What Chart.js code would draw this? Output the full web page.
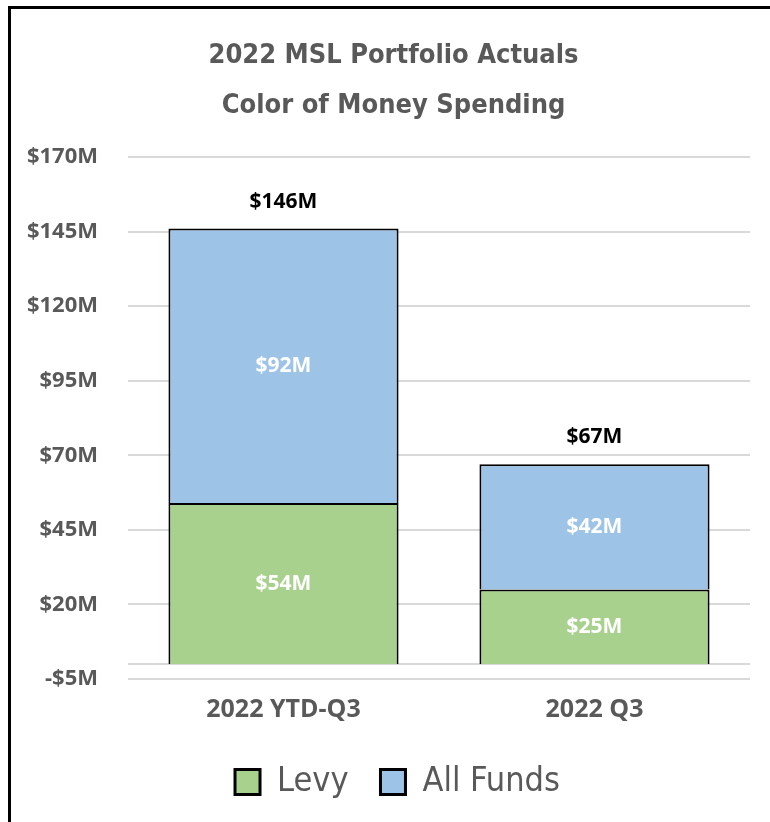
<!DOCTYPE html>
<html>
<head>
<meta charset="utf-8">
<script src="https://cdn.jsdelivr.net/npm/chart.js@4"></script>
<style>
  html, body { margin: 0; padding: 0; background: #fff; overflow: hidden; }
  #frame { position: absolute; left: 8px; top: 6px; width: 762px; height: 816px;
           border-left: 3px solid #000; border-top: 3px solid #000; box-sizing: border-box; }
  #wrap { position: absolute; left: 0; top: 0; width: 759px; height: 813px; }
</style>
</head>
<body>
<div id="frame"><div id="wrap"><canvas id="c"></canvas></div></div>
<script>
const categories = ['2022 YTD-Q3', '2022 Q3'];
const levy = [54, 25];
const allFunds = [92, 42];
const totals = [146, 67];
const titleLines = ['2022 MSL Portfolio Actuals', 'Color of Money Spending'];
const yMin = -5, yMax = 170, yStep = 25;

const GREY = '#595959';
const GRID = '#d9d9d9';
const FONT = "'Open Sans', sans-serif";
const NARROW = "'Liberation Sans Narrow', 'DejaVu Sans Condensed', sans-serif";

const fmt = v => (v < 0 ? '-$' + Math.abs(v) : '$' + v) + 'M';

const zeroLine = {
  id: 'zeroLine',
  beforeDatasetsDraw(chart) {
    const y = chart.scales.y.getPixelForValue(0);
    const { left, right } = chart.chartArea;
    const ctx = chart.ctx;
    ctx.save();
    ctx.strokeStyle = GRID;
    ctx.lineWidth = 2;
    ctx.beginPath();
    ctx.moveTo(left, y);
    ctx.lineTo(right, y);
    ctx.stroke();
    ctx.restore();
  }
};

const labels = {
  id: 'barLabels',
  afterDatasetsDraw(chart) {
    const ctx = chart.ctx;
    ctx.save();
    ctx.textAlign = 'center';
    ctx.textBaseline = 'middle';
    ctx.font = 'bold 21px ' + FONT;
    chart.data.datasets.forEach((ds, di) => {
      const meta = chart.getDatasetMeta(di);
      meta.data.forEach((bar, i) => {
        const p = bar.getProps(['x', 'y', 'base'], true);
        ctx.fillStyle = '#ffffff';
        ctx.fillText(fmt(ds.data[i]), p.x, (p.y + p.base) / 2);
      });
    });
    const top = chart.getDatasetMeta(chart.data.datasets.length - 1);
    top.data.forEach((bar, i) => {
      const p = bar.getProps(['x', 'y'], true);
      ctx.fillStyle = '#000000';
      ctx.fillText(fmt(totals[i]), p.x, p.y - 27);
    });
    ctx.restore();
  }
};

const shiftBoxes = {
  id: 'shiftBoxes',
  afterLayout(chart) {
    if (chart.titleBlock) { chart.titleBlock.left += 13; chart.titleBlock.right += 13; }
    if (chart.legend) { chart.legend.left += 17; chart.legend.right += 17; }
  }
};

new Chart(document.getElementById('c'), {
  type: 'bar',
  data: {
    labels: categories,
    datasets: [
      { label: 'Levy', data: levy, backgroundColor: '#A9D18E', borderColor: '#000', borderWidth: 2 },
      { label: 'All Funds', data: allFunds, backgroundColor: '#9DC3E6', borderColor: '#000', borderWidth: 2 }
    ]
  },
  options: {
    responsive: true,
    maintainAspectRatio: false,
    animation: false,
    layout: { padding: { left: 0, right: 20, top: 0, bottom: 13 } },
    datasets: { bar: { categoryPercentage: 1, barPercentage: 0.74 } },
    scales: {
      x: {
        stacked: true,
        grid: { display: false, drawTicks: false },
        border: { display: false },
        ticks: { color: GREY, font: { family: FONT, size: 25, weight: 'bold' }, padding: 16 },
        afterFit(s) { s.height = 54; }
      },
      y: {
        stacked: true,
        min: yMin, max: yMax,
        grid: { color: GRID, lineWidth: 2, drawTicks: false },
        border: { display: false },
        ticks: { stepSize: yStep, color: GREY, padding: 30,
                 font: { family: FONT, size: 22, weight: 'bold' },
                 callback: v => fmt(v) },
        afterFit(s) { s.width = 117; }
      }
    },
    plugins: {
      title: {
        display: true,
        text: titleLines,
        color: GREY,
        font: { family: NARROW, size: 27, weight: 'bold', lineHeight: 50 / 27 },
        padding: { top: 22, bottom: 26 }
      },
      legend: {
        position: 'bottom',
        labels: {
          color: GREY,
          font: { family: NARROW, size: 34 },
          boxWidth: 25, boxHeight: 25,
          padding: 32,
          generateLabels(chart) {
            return chart.data.datasets.map((d, i) => ({
              text: d.label, fillStyle: d.backgroundColor, strokeStyle: '#000',
              lineWidth: 3, fontColor: GREY, datasetIndex: i, hidden: false
            }));
          }
        }
      },
      tooltip: { enabled: false }
    }
  },
  plugins: [zeroLine, labels, shiftBoxes]
});
</script>
</body>
</html>
